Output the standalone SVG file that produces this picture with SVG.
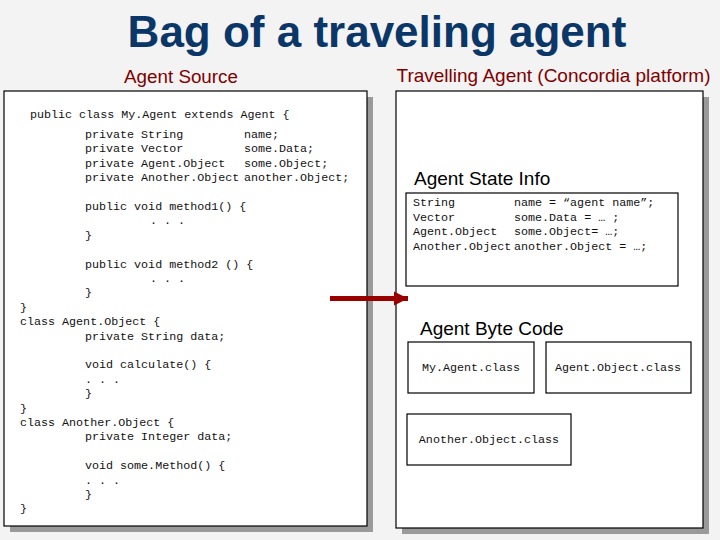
<svg xmlns="http://www.w3.org/2000/svg" width="720" height="540" viewBox="0 0 720 540">
<defs>
<style>
.title{font-family:"Liberation Sans",Arial,sans-serif;font-weight:bold;font-size:44px;fill:#0b3768;text-anchor:middle}
.sub{font-family:"Liberation Sans",Arial,sans-serif;font-size:18.8px;fill:#800000;text-anchor:middle}
.head{font-family:"Liberation Sans",Arial,sans-serif;font-size:19px;fill:#000}
.code{font-family:"Liberation Mono","Courier New",monospace;font-size:11.7px;fill:#111}
.cls{font-family:"Liberation Mono","Courier New",monospace;font-size:11.7px;fill:#111;text-anchor:middle}
.panel{fill:#fff;stroke:#000;stroke-width:1.2}
.shadow{fill:#9a9a9a}
.box{fill:#fff;stroke:#000;stroke-width:1.2}
.arrow{stroke:#990000;stroke-width:5;fill:none}
</style>
<marker id="ah" markerUnits="userSpaceOnUse" markerWidth="16" markerHeight="16" refX="14" refY="8" orient="auto">
<path d="M0,1 L14,8 L0,15 Z" fill="#990000"/>
</marker>
</defs>
<rect x="0" y="0" width="720" height="540" fill="#f3f3f3"/>
<g id="title">
<text class="title" x="377" y="47">Bag of a traveling agent</text>
</g>
<g id="agent-source">
<text class="sub" x="181" y="83">Agent Source</text>
<rect class="shadow" x="10" y="97" width="363" height="435"/>
<rect class="panel" x="4" y="91" width="363" height="435"/>
<g class="code">
<text x="30" y="118">public class My.Agent extends Agent {</text>
<text x="85" y="138">private String</text><text x="244" y="138">name;</text>
<text x="85" y="152.4">private Vector</text><text x="244" y="152.4">some.Data;</text>
<text x="85" y="166.8">private Agent.Object</text><text x="244" y="166.8">some.Object;</text>
<text x="85" y="181.2">private Another.Object</text><text x="244" y="181.2">another.Object;</text>
<text x="85" y="210">public void method1() {</text>
<text x="150" y="224.4">. . .</text>
<text x="85" y="238.8">}</text>
<text x="85" y="267.6">public void method2 () {</text>
<text x="150" y="282">. . .</text>
<text x="85" y="296.4">}</text>
<text x="20" y="310.8">}</text>
<text x="20" y="325.2">class Agent.Object {</text>
<text x="85" y="339.6">private String data;</text>
<text x="85" y="368.4">void calculate() {</text>
<text x="85" y="382.8">. . .</text>
<text x="85" y="397.2">}</text>
<text x="20" y="411.6">}</text>
<text x="20" y="426">class Another.Object {</text>
<text x="85" y="440.4">private Integer data;</text>
<text x="85" y="469.2">void some.Method() {</text>
<text x="85" y="483.6">. . .</text>
<text x="85" y="498">}</text>
<text x="20" y="512.4">}</text>
</g>
</g>
<g id="travelling-agent">
<text class="sub" x="553.5" y="82" style="font-size:19px">Travelling Agent (Concordia platform)</text>
<rect class="shadow" x="402" y="97" width="307" height="437"/>
<rect class="panel" x="396" y="91" width="307" height="437"/>
</g>
<g id="agent-state-info">
<text class="head" x="414" y="185">Agent State Info</text>
<rect class="box" x="406" y="193" width="272" height="93"/>
<g class="code">
<text x="413" y="206.4">String</text><text x="514" y="206.4">name = “agent name”;</text>
<text x="413" y="220.8">Vector</text><text x="514" y="220.8">some.Data = … ;</text>
<text x="413" y="235.2">Agent.Object</text><text x="514" y="235.2">some.Object= …;</text>
<text x="413" y="249.6">Another.Object</text><text x="514" y="249.6">another.Object = …;</text>
</g>
</g>
<g id="agent-byte-code">
<text class="head" x="420" y="335">Agent Byte Code</text>
</g>
<g id="myagent-class">
<rect class="box" x="408" y="342" width="126" height="51"/>
<text class="cls" x="471" y="371">My.Agent.class</text>
</g>
<g id="agentobject-class">
<rect class="box" x="546" y="342" width="145" height="51"/>
<text class="cls" x="618" y="371">Agent.Object.class</text>
</g>
<g id="anotherobject-class">
<rect class="box" x="407" y="414" width="164" height="51"/>
<text class="cls" x="489" y="443">Another.Object.class</text>
</g>
<g id="connectors">
<line class="arrow" x1="330" y1="298.5" x2="408" y2="298.5" marker-end="url(#ah)"/>
</g>
</svg>
